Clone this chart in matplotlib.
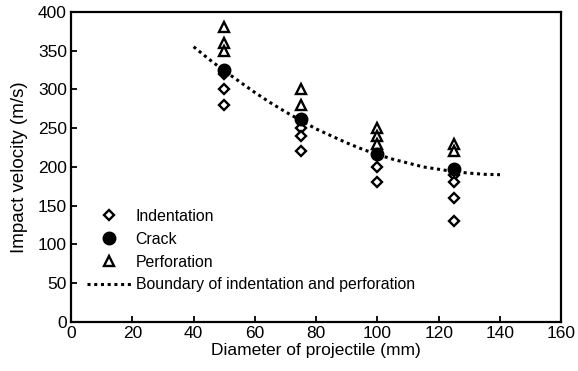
import numpy as np
import matplotlib
matplotlib.use("Agg")
import matplotlib.pyplot as plt

plt.rcParams['font.family'] = ['Liberation Sans', 'DejaVu Sans']

# diameters tested (mm)
indent_d = [50, 50, 50, 75, 75, 75, 100, 100, 125, 125, 125, 125]
indent_v = [320, 300, 280, 250, 240, 220, 200, 180, 190, 180, 160, 130]

crack_d = [50, 75, 100, 125]
crack_v = [325, 262, 217, 197]

perf_d = [50, 50, 50, 75, 75, 100, 100, 100, 125, 125]
perf_v = [380, 360, 350, 300, 280, 250, 240, 230, 230, 220]

# boundary curve
bound_d = [40, 45, 50, 55, 60, 65, 70, 75, 80, 85, 90, 95, 100,
           105, 110, 115, 120, 125, 130, 135, 140]
bound_v = [355, 339, 324, 310, 296, 283, 271, 260, 249, 240, 231, 223, 216,
           210, 205, 200, 197, 194, 192, 190.5, 190]

fig = plt.figure(figsize=(5.78, 3.71), dpi=100)
ax = fig.add_axes([0.123, 0.132, 0.848, 0.836])

ax.plot(indent_d, indent_v, linestyle='none', marker='D', ms=5.5, mfc='white',
        mec='black', mew=1.7, label='Indentation', zorder=3)
ax.plot(crack_d, crack_v, linestyle='none', marker='o', ms=9, color='black',
        label='Crack', zorder=4)
ax.plot(perf_d, perf_v, linestyle='none', marker='^', ms=7.5, mfc='white',
        mec='black', mew=1.7, label='Perforation', zorder=3)
ax.plot(bound_d, bound_v, color='black', linestyle=(0, (1, 1.2)), lw=2.2,
        label='Boundary of indentation and perforation', zorder=2)

ax.set_xlim(0, 160)
ax.set_ylim(0, 400)
ax.set_xticks(np.arange(0, 161, 20))
ax.set_yticks(np.arange(0, 401, 50))
ax.tick_params(direction='in', length=4, width=1.3, labelsize=12.5, pad=3)
for sp in ax.spines.values():
    sp.set_linewidth(1.6)

ax.set_xlabel('Diameter of projectile (mm)', fontsize=12.5, labelpad=1)
ax.set_ylabel('Impact velocity (m/s)', fontsize=13.5, labelpad=7)

ax.legend(loc='lower left', bbox_to_anchor=(0.02, 0.075), frameon=False,
          fontsize=11.4, handlelength=2.8, handletextpad=0.25,
          labelspacing=0.5, borderaxespad=0)

fig.savefig('out.png', dpi=100)
